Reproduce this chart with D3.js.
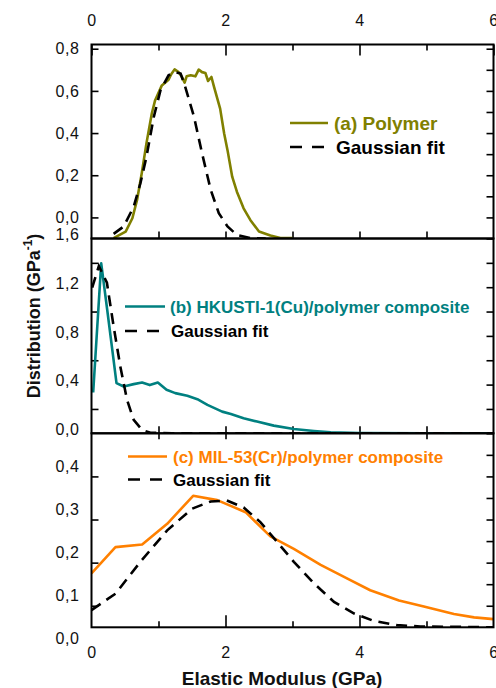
<!DOCTYPE html>
<html>
<head>
<meta charset="utf-8">
<script src="https://cdn.jsdelivr.net/npm/d3@7"></script>
<style>
body { margin: 0; background: #fff; }
svg { display: block; font-family: "Liberation Sans", Arial, sans-serif; }
</style>
</head>
<body>
<div id="chart"></div>
<script>
// values (x in GPa, y in GPa^-1)
var polymer = [[0.33,-0.098],[0.51,-0.067],[0.61,-0.004],[0.68,0.083],[0.75,0.209],[0.82,0.351],[0.90,0.493],
  [0.95,0.556],[1.05,0.626],[1.15,0.653],[1.19,0.679],[1.24,0.702],[1.30,0.689],[1.35,0.666],[1.39,0.639],
  [1.42,0.669],[1.48,0.674],[1.55,0.669],[1.60,0.701],[1.65,0.689],[1.70,0.685],[1.74,0.647],[1.79,0.666],
  [1.83,0.618],[1.92,0.516],[1.98,0.398],[2.03,0.319],[2.10,0.193],[2.17,0.122],[2.27,0.043],[2.37,-0.012],
  [2.50,-0.067],[2.67,-0.086],[2.82,-0.098],[3.0,-0.098]];
var polymerFit = [[0.33,-0.078],[0.48,-0.043],[0.63,0.051],[0.73,0.162],[0.82,0.287],[0.93,0.477],[1.03,0.603],
  [1.15,0.674],[1.25,0.689],[1.33,0.682],[1.40,0.618],[1.53,0.477],[1.65,0.304],[1.78,0.130],[1.90,0.020],
  [2.03,-0.043],[2.17,-0.083],[2.37,-0.098],[2.6,-0.1]];
var hkust = [[0.025,0.335],[0.145,1.396],[0.234,1.017],[0.31,0.687],[0.373,0.412],[0.48,0.384],[0.63,0.404],
  [0.755,0.417],[0.87,0.396],[0.99,0.417],[1.12,0.357],[1.25,0.330],[1.43,0.308],[1.58,0.280],[1.73,0.233],
  [1.95,0.178],[2.08,0.159],[2.27,0.124],[2.47,0.096],[2.72,0.063],[3.02,0.035],[3.32,0.019],[3.57,0.008],
  [4.0,0.002],[5.0,0.0],[6.0,0.0]];
var hkustFit = [[0.01,1.196],[0.11,1.374],[0.23,1.237],[0.33,0.879],[0.43,0.549],[0.53,0.275],[0.63,0.110],
  [0.755,0.027],[0.88,0.005],[1.2,0.0],[6.0,0.0]];
var mil = [[0,0.125],[0.358,0.186],[0.756,0.192],[1.13,0.240],[1.517,0.305],[1.876,0.295],[2.30,0.267],
  [2.67,0.211],[3.02,0.182],[3.42,0.145],[3.82,0.113],[4.16,0.086],[4.59,0.062],[4.96,0.048],[5.41,0.031],
  [5.71,0.023],[6.0,0.019]];
var milFit = [[0,0.040],[0.358,0.078],[0.73,0.152],[1.13,0.225],[1.50,0.275],[1.78,0.292],[2.02,0.294],
  [2.27,0.278],[2.52,0.244],[2.77,0.198],[3.02,0.152],[3.32,0.102],[3.62,0.059],[3.92,0.032],[4.21,0.015],
  [4.56,0.005],[4.91,0.002],[6.0,0.0]];

var xLabels = [0, 2, 4, 6];
var xMajor = [0, 2, 4, 6];
var xMinor = [1, 3, 5];
var yLabelsA = [0, 0.2, 0.4, 0.6, 0.8];
var yLabelsB = [0, 0.4, 0.8, 1.2, 1.6];
var yLabelsC = [0, 0.1, 0.2, 0.3, 0.4];
var leftTicksA = [0, 0.2, 0.4, 0.6, 0.8];
var leftTicksB = [0.2, 0.6, 1.0, 1.4];
var leftTicksC = [0.05, 0.15, 0.25, 0.35];
var rightTicksA = [-0.1, 0, 0.1, 0.2, 0.3, 0.4, 0.5, 0.6, 0.7, 0.8];
var rightTicksB = [0.2, 0.4, 0.6, 0.8, 1.0, 1.2, 1.4];
var rightTicksC = [0.05, 0.1, 0.15, 0.2, 0.25, 0.3, 0.35, 0.4, 0.45];

var seriesNames = ["(a) Polymer", "(b) HKUSTI-1(Cu)/polymer composite", "(c) MIL-53(Cr)/polymer composite"];
var fitName = "Gaussian fit";
var colors = ["#808000", "#008080", "#ff8000"];

var W = 496, H = 688;
var fmt = d3.formatLocale({decimal: ",", thousands: ".", grouping: [3], currency: ["", ""]}).format(".1f");

var svg = d3.select("#chart").append("svg").attr("width", W).attr("height", H);

var x = d3.scaleLinear().domain([0, 6]).range([91.5, 493.5]);

var panels = [
  {top: 44.5, bottom: 238.5, domain: [-0.1, 0.82], data: polymer, fit: polymerFit,
   labels: yLabelsA, left: leftTicksA, right: rightTicksA, shift: 0,
   leg: {x0: 290, x1: 328, y: 123, tx: 334, fs: 19, fy: 147, ftx: 336}},
  {top: 238.5, bottom: 433.3, domain: [0, 1.6], data: hkust, fit: hkustFit,
   labels: yLabelsB, left: leftTicksB, right: rightTicksB, shift: -4,
   leg: {x0: 125, x1: 165, y: 306.5, tx: 170, fs: 17, fy: 331, ftx: 171}},
  {top: 433.3, bottom: 627.3, domain: [0, 0.45], data: mil, fit: milFit,
   labels: yLabelsC, left: leftTicksC, right: rightTicksC, shift: 11.5,
   leg: {x0: 128, x1: 167, y: 456.5, tx: 173, fs: 17, fy: 479.5, ftx: 173}}
];

function styleAxis(g) {
  g.select(".domain").remove();
  g.selectAll("line").attr("stroke", "#000").attr("stroke-width", 1.6);
  g.attr("font-family", null).attr("font-size", null);
  g.selectAll("text").attr("fill", "#111").style("font-size", "16px").style("letter-spacing", "0.6px");
}

panels.forEach(function(p, i) {
  var y = d3.scaleLinear().domain(p.domain).range([p.bottom, p.top]);
  var g = svg.append("g");

  g.append("g").attr("transform", "translate(" + x(0) + ",0)")
    .call(d3.axisLeft(y).tickValues(p.left).tickSize(-7).tickFormat(""))
    .call(styleAxis);
  g.append("g").attr("transform", "translate(" + x(6) + ",0)")
    .call(d3.axisRight(y).tickValues(p.right).tickSize(-7).tickFormat(""))
    .call(styleAxis);
  var lab = g.append("g").attr("transform", "translate(" + x(0) + ",0)")
    .call(d3.axisLeft(y).tickValues(p.labels).tickSize(0).tickPadding(12).tickFormat(fmt))
    .call(styleAxis);
  lab.selectAll("text").attr("y", p.shift);

  // inward ticks on the bottom edge
  var bot = g.append("g").attr("transform", "translate(0," + p.bottom + ")");
  if (i == 2) {
    bot.call(d3.axisBottom(x).tickValues([2, 4]).tickSize(-12).tickFormat("")).call(styleAxis);
    bot.append("g").call(d3.axisBottom(x).tickValues(xMinor).tickSize(-6).tickFormat("")).call(styleAxis);
    svg.append("g").attr("transform", "translate(0," + p.top + ")")
      .call(d3.axisTop(x).tickValues([1, 2, 3, 4, 5]).tickSize(-6).tickFormat("")).call(styleAxis);
  } else {
    bot.call(d3.axisBottom(x).tickValues([1, 2, 3, 4, 5]).tickSize(-7).tickFormat("")).call(styleAxis);
  }

  var line = d3.line().x(function(d) { return x(d[0]); }).y(function(d) { return y(d[1]); });

  var clipId = "clip" + i;
  g.append("clipPath").attr("id", clipId).append("rect")
    .attr("x", x(0)).attr("y", p.top - 2).attr("width", x(6) - x(0)).attr("height", p.bottom - p.top + 2);

  g.append("path").datum(p.data)
    .attr("clip-path", "url(#" + clipId + ")")
    .attr("d", line).attr("fill", "none")
    .attr("stroke", colors[i]).attr("stroke-width", 2.6).attr("stroke-linejoin", "round");
  g.append("path").datum(p.fit)
    .attr("clip-path", "url(#" + clipId + ")")
    .attr("d", line).attr("fill", "none")
    .attr("stroke", "#000").attr("stroke-width", 2.6).attr("stroke-dasharray", "11,7");

  g.append("rect").attr("x", x(0)).attr("y", p.top)
    .attr("width", x(6) - x(0)).attr("height", p.bottom - p.top)
    .attr("fill", "none").attr("stroke", "#000").attr("stroke-width", 2);

  // legend
  var L = p.leg;
  g.append("line").attr("x1", L.x0).attr("x2", L.x1).attr("y1", L.y).attr("y2", L.y)
    .attr("stroke", colors[i]).attr("stroke-width", 2.6);
  g.append("text").attr("x", L.tx).attr("y", L.y).attr("dy", "0.36em")
    .attr("fill", colors[i]).attr("font-weight", "bold").attr("font-size", L.fs)
    .text(seriesNames[i]);
  g.append("line").attr("x1", L.x0).attr("x2", L.x0 + 34).attr("y1", L.fy).attr("y2", L.fy)
    .attr("stroke", "#000").attr("stroke-width", 2.6).attr("stroke-dasharray", "12,10");
  g.append("text").attr("x", L.ftx).attr("y", L.fy).attr("dy", "0.36em")
    .attr("fill", "#000").attr("font-weight", "bold").attr("font-size", L.fs)
    .text(fitName);
});

// top axis of panel (a)
var topAxis = svg.append("g").attr("transform", "translate(0," + panels[0].top + ")");
topAxis.append("g").call(d3.axisTop(x).tickValues(xMajor).tickSize(-11).tickFormat("")).call(styleAxis);
topAxis.append("g").call(d3.axisTop(x).tickValues(xMinor).tickSize(-6).tickFormat("")).call(styleAxis);
topAxis.append("g").call(d3.axisTop(x).tickValues(xLabels).tickSize(0).tickPadding(19).tickFormat(d3.format("d"))).call(styleAxis);

// bottom labels of panel (c)
svg.append("g").attr("transform", "translate(0," + panels[2].bottom + ")")
  .call(d3.axisBottom(x).tickValues(xLabels).tickSize(0).tickPadding(19).tickFormat(d3.format("d")))
  .call(styleAxis);

svg.append("text").attr("x", 282).attr("y", 685).attr("text-anchor", "middle")
  .attr("font-weight", "bold").attr("font-size", 19).attr("fill", "#111")
  .text("Elastic Modulus (GPa)");

var yt = svg.append("text").attr("transform", "translate(40,316) rotate(-90)")
  .attr("text-anchor", "middle").attr("font-weight", "bold").attr("font-size", 18).attr("fill", "#111");
yt.append("tspan").text("Distribution (GPa");
yt.append("tspan").attr("dy", -8).attr("font-size", 12).text("-1");
yt.append("tspan").attr("dy", 8).text(")");
</script>
</body>
</html>
